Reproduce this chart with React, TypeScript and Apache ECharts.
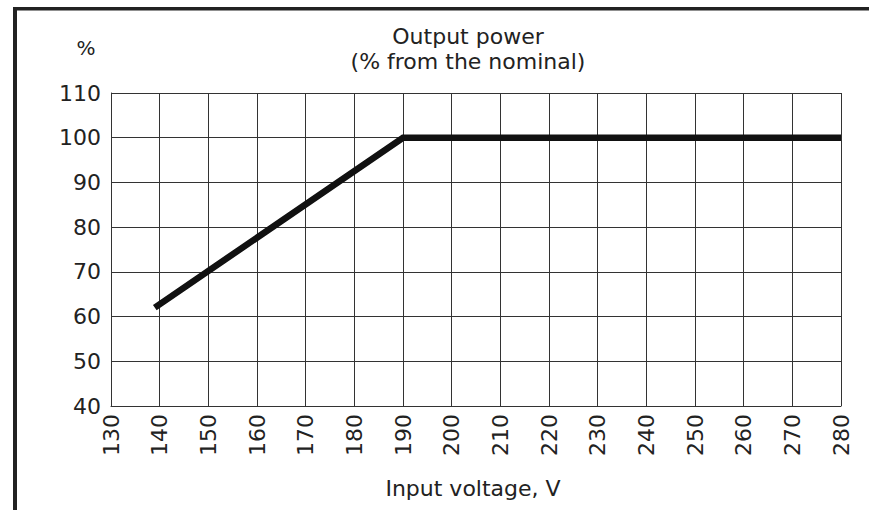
import React, { useEffect, useRef } from "react";
import * as echarts from "echarts";

const voltage = [139, 190, 280];
const power = [62, 100, 100];
const titleLines = ["Output power", "(% from the nominal)"];
const yUnit = "%";
const xName = "Input voltage, V";

export default function App() {
  const ref = useRef<HTMLDivElement>(null);
  useEffect(() => {
    const chart = echarts.init(ref.current!, null, { renderer: "svg" });
    const font = "'DejaVu Sans', sans-serif";
    chart.setOption({
      animation: false,
      backgroundColor: "#fff",
      grid: { left: 111, right: 28, top: 93, bottom: 104 },
      title: {
        text: titleLines.join("\n"),
        left: 463,
        top: 19,
        textAlign: "center",
        textStyle: { fontFamily: font, fontSize: 22, fontWeight: "normal", color: "#222", lineHeight: 25 },
      },
      graphic: [
        { type: "rect", shape: { x: 13, y: 7, width: 856, height: 3.5 }, style: { fill: "#222" } },
        { type: "rect", shape: { x: 13, y: 7, width: 4, height: 503 }, style: { fill: "#222" } },
        { type: "text", x: 86, y: 48, style: { text: yUnit, font: `20px ${font}`, fill: "#222", textAlign: "center", textVerticalAlign: "middle" } },
        { type: "text", x: 473, y: 488, style: { text: xName, font: `22px ${font}`, fill: "#222", textAlign: "center", textVerticalAlign: "middle" } },
      ],
      xAxis: {
        type: "value",
        min: 130,
        max: 280,
        interval: 10,
        axisLine: { show: true, lineStyle: { color: "#333", width: 1 } },
        axisTick: { show: false },
        splitLine: { show: true, lineStyle: { color: "#333", width: 1 } },
        axisLabel: { rotate: 90, margin: 8, fontFamily: font, fontSize: 22, color: "#222" },
      },
      yAxis: {
        type: "value",
        min: 40,
        max: 110,
        interval: 10,
        axisLine: { show: true, lineStyle: { color: "#333", width: 1 } },
        axisTick: { show: false },
        splitLine: { show: true, lineStyle: { color: "#333", width: 1 } },
        axisLabel: { margin: 10, fontFamily: font, fontSize: 22, color: "#222" },
      },
      series: [
        {
          type: "line",
          data: voltage.map((v, i) => [v, power[i]]),
          showSymbol: false,
          lineStyle: { color: "#111", width: 6.5, cap: "butt", join: "miter" },
        },
      ],
    });
    return () => chart.dispose();
  }, []);
  return <div ref={ref} style={{ position: "fixed", left: 0, top: 0, width: 869, height: 510 }} />;
}
